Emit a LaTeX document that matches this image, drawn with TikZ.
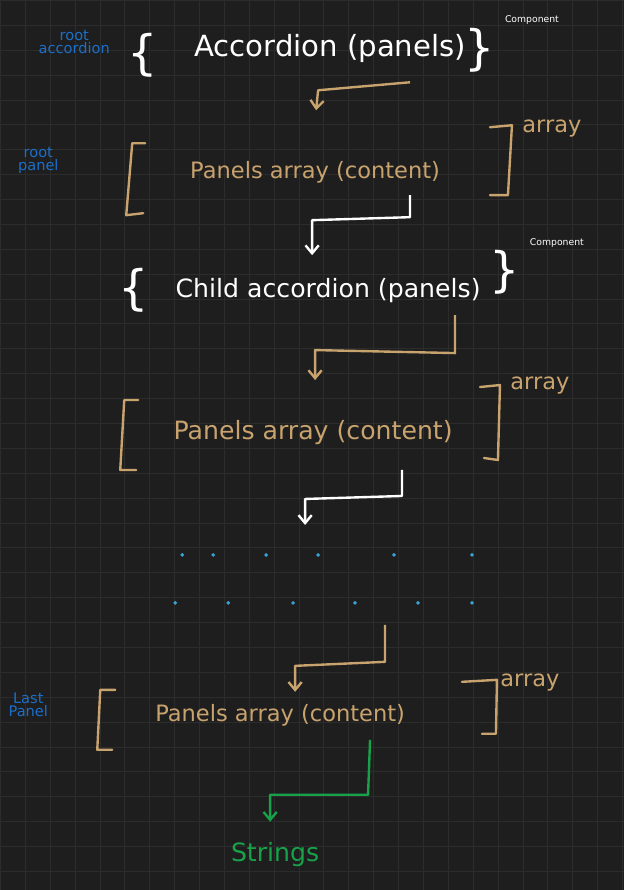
\documentclass[tikz,border=0pt]{standalone}
\usepackage{fontspec}
\setmainfont{DejaVu Sans}
\usetikzlibrary{arrows.meta}
\definecolor{bg}{HTML}{1E1E1E}
\definecolor{gridc}{HTML}{2C2C2C}
\definecolor{tan}{HTML}{C9A36E}
\definecolor{blu}{HTML}{1C6FC8}
\definecolor{grn}{HTML}{17A24A}
\definecolor{dotc}{HTML}{3AA3D6}
\begin{document}
\begin{tikzpicture}[x=0.0265cm,y=-0.0265cm,
  lbl/.style={text=blu,font=\fontsize{11}{10}\selectfont,align=center,inner sep=0},
  big/.style={font=\fontsize{22}{24}\selectfont,inner sep=0},
  brc/.style={font=\fontsize{36}{38}\selectfont\mdseries,inner sep=0},
  mid/.style={font=\fontsize{17}{20}\selectfont,inner sep=0},
  tiny/.style={font=\fontsize{7}{8}\selectfont,inner sep=0},
  brk/.style={line width=1.8pt,line cap=round,line join=round},
  arr/.style={line width=1.8pt,line join=round,-{Straight Barb[length=6pt,width=10pt]}},
  dotn/.style={circle,fill=dotc,inner sep=0,minimum size=3pt}]
\fill[bg] (0,0) rectangle (624,890);
\draw[gridc,line width=0.5pt,step=0.66cm] (0,0) grid (624,890);
\useasboundingbox (0,0) rectangle (624,890);
% level 1
\node[lbl] (l1) at (74,42) {root\\accordion};
\node[brc,white] (b1) at (142,55) {\{};
\node[big,white] (acc) at (330,48) {Accordion (panels)};
\node[brc,white] (e1) at (480,50) {\}};
\node[tiny,white] (c1) at (532,20) {Component};
\coordinate (a1s) at (410,82); \coordinate (a1e) at (316,110);
\draw[tan,arr] (a1s) -- (318,90) -- (a1e);
% level 2
\node[lbl] (l2) at (38,160) {root\\panel};
\draw[tan,brk] (145,143) -- (132,143) -- (126,215) -- (143,213);
\node[mid,text=tan] (p1) at (315,172) {Panels array (content)};
\draw[tan,brk] (490,127) -- (512,125) -- (508,195) -- (490,195);
\node[mid,text=tan] (ar1) at (552,128) {array};
\coordinate (a2s) at (410,195); \coordinate (a2e) at (312,255);
\draw[white,arr] (a2s) -- (410,217) -- (312,220) -- (a2e);
% level 3
\node[brc,white] (b2) at (133,290) {\{};
\node[mid,white,font=\fontsize{19}{22}\selectfont] (ch) at (328,290) {Child accordion (panels)};
\node[brc,white] (e2) at (505,272) {\}};
\node[tiny,white] (c2) at (557,243) {Component};
\coordinate (a3s) at (455,315); \coordinate (a3e) at (315,380);
\draw[tan,arr] (a3s) -- (455,353) -- (315,350) -- (a3e);
% level 4
\draw[tan,brk] (138,400) -- (124,400) -- (120,470) -- (136,470);
\node[mid,text=tan,font=\fontsize{19}{22}\selectfont] (p2) at (313,433) {Panels array (content)};
\draw[tan,brk] (480,387) -- (500,385) -- (498,460) -- (484,458);
\node[mid,text=tan] (ar2) at (540,385) {array};
\coordinate (a4s) at (402,470); \coordinate (a4e) at (305,525);
\draw[white,arr] (a4s) -- (402,496) -- (305,499) -- (a4e);
% dots
\foreach \x [count=\i] in {182,213,266,318,394,472} \node[dotn] (d\i) at (\x,555) {};
\foreach \x [count=\i] in {175,228,293,355,418,472} \node[dotn] (e\i) at (\x,603) {};
\coordinate (a5s) at (385,625); \coordinate (a5e) at (295,692);
\draw[tan,arr] (a5s) -- (385,662) -- (295,666) -- (a5e);
% last
\node[lbl] (l3) at (28,705) {Last\\Panel};
\draw[tan,brk] (115,690) -- (100,690) -- (97,750) -- (112,750);
\node[mid,text=tan] (p3) at (280,715) {Panels array (content)};
\draw[tan,brk] (462,682) -- (497,680) -- (496,734) -- (482,734);
\node[mid,text=tan] (ar3) at (530,683) {array};
\coordinate (a6s) at (370,740); \coordinate (a6e) at (270,822);
\draw[grn,arr] (a6s) -- (368,795) -- (270,795) -- (a6e);
\node[mid,text=grn,font=\fontsize{19}{22}\selectfont] (str) at (275,855) {Strings};
\end{tikzpicture}
\end{document}
